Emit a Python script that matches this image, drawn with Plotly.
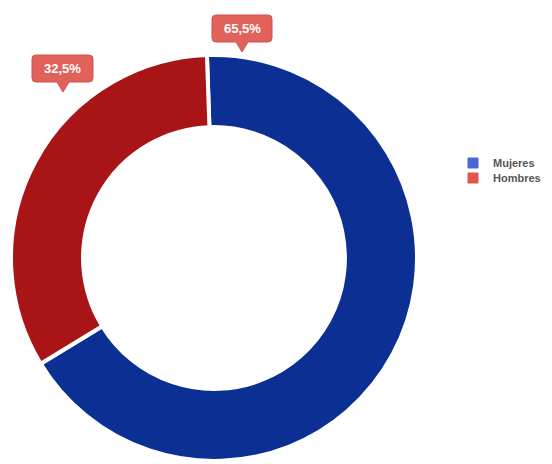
import plotly.graph_objects as go

labels = ["Mujeres", "Hombres"]
values = [65.5, 32.5]
slice_colors = ["#0C2F93", "#A91517"]
legend_colors = ["#4A66D6", "#E0574C"]

W, H = 552, 464

def fmt(v):
    return f"{v:.1f}".replace(".", ",") + "%"

fig = go.Figure()
fig.add_trace(go.Pie(
    labels=labels, values=values, hole=0.645, sort=False, direction="clockwise",
    rotation=-2,
    marker=dict(colors=slice_colors, line=dict(color="white", width=4)),
    textinfo="none", hoverinfo="label+percent", showlegend=False,
    domain=dict(x=[11 / W, 417 / W], y=[(H - 461) / H, (H - 55) / H]),
))

legend_names = ["legend", "legend2"]
for lab, col, lg in zip(labels, legend_colors, legend_names):
    fig.add_trace(go.Scatter(
        x=[None], y=[None], mode="markers", name=f"<b>{lab}</b>",
        legend=lg,
        marker=dict(symbol="square", size=10, color=col,
                    line=dict(color=col, width=1)),
    ))

# callout boxes (pixel geometry -> paper coords)
callouts = [
    (values[0], 212, 272, 15, 42, 242, 52),
    (values[1], 32, 93, 55, 82, 63, 92),
]

def px(x):
    return x / W

def py(y):
    return 1 - y / H

shapes = []
for v, x0, x1, y0, y1, tx, ty in callouts:
    r = 4
    pts = [
        f"M {px(x0 + r)} {py(y0)}",
        f"L {px(x1 - r)} {py(y0)}",
        f"Q {px(x1)} {py(y0)} {px(x1)} {py(y0 + r)}",
        f"L {px(x1)} {py(y1 - r)}",
        f"Q {px(x1)} {py(y1)} {px(x1 - r)} {py(y1)}",
        f"L {px(tx + 6)} {py(y1)}",
        f"L {px(tx)} {py(ty)}",
        f"L {px(tx - 6)} {py(y1)}",
        f"L {px(x0 + r)} {py(y1)}",
        f"Q {px(x0)} {py(y1)} {px(x0)} {py(y1 - r)}",
        f"L {px(x0)} {py(y0 + r)}",
        f"Q {px(x0)} {py(y0)} {px(x0 + r)} {py(y0)}",
        "Z",
    ]
    shapes.append(dict(type="path", xref="paper", yref="paper", path=" ".join(pts),
                       fillcolor="#E0625A", line=dict(color="#D2514A", width=1),
                       layer="below"))
    fig.add_annotation(x=px((x0 + x1) / 2), y=py((y0 + y1) / 2), xref="paper", yref="paper",
                       xanchor="center", yanchor="middle",
                       text=f"<b>{fmt(v)}</b>", showarrow=False,
                       font=dict(family="Arial, Liberation Sans", size=13, color="white"))

legend_style = dict(xanchor="left", yanchor="middle",
                    font=dict(family="Arial, Liberation Sans", size=11, color="#555555"),
                    itemwidth=30, bgcolor="rgba(0,0,0,0)")

fig.update_layout(
    width=W, height=H, margin=dict(l=0, r=0, t=0, b=0),
    paper_bgcolor="white", plot_bgcolor="rgba(0,0,0,0)",
    shapes=shapes,
    xaxis=dict(visible=False), yaxis=dict(visible=False),
    legend=dict(x=453 / W, y=1 - 163 / H, **legend_style),
    legend2=dict(x=453 / W, y=1 - 178 / H, **legend_style),
    font=dict(family="Arial, Liberation Sans"),
)

fig.write_html("out.html", config={"displayModeBar": False},
               post_script="document.body.style.margin='0';document.body.style.padding='0';")
